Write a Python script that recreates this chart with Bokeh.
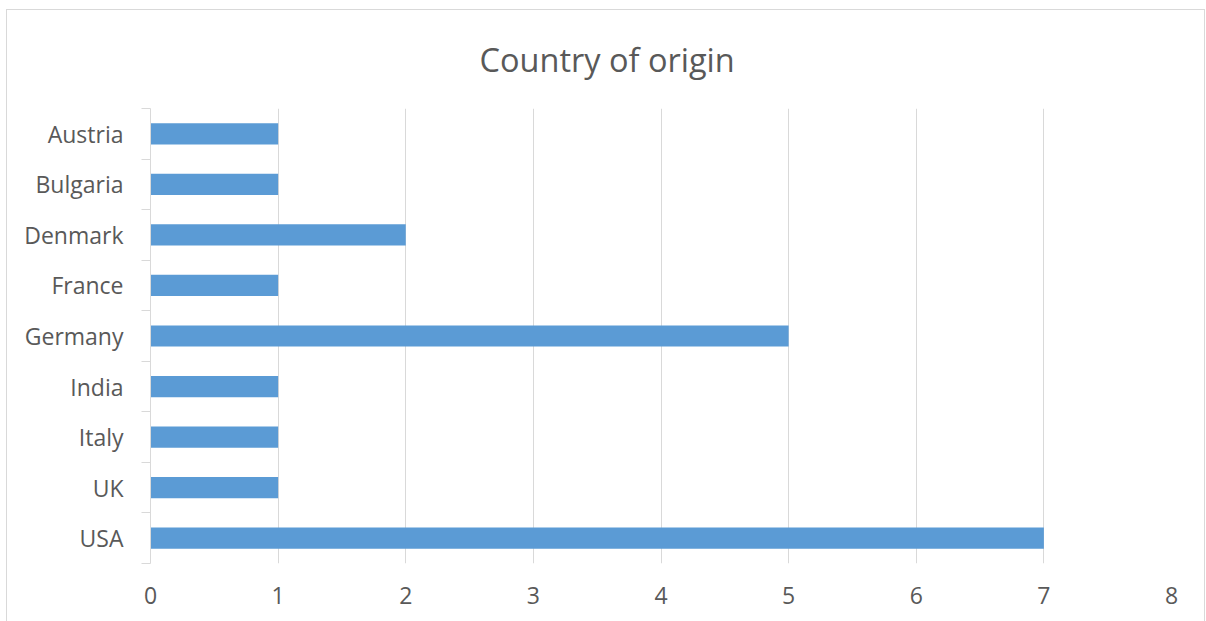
from bokeh.plotting import figure
from bokeh.models import Range1d, FixedTicker
from bokeh.embed import file_html
from bokeh.resources import INLINE

# Data
countries = ["Austria", "Bulgaria", "Denmark", "France", "Germany", "India", "Italy", "UK", "USA"]
counts = [1, 1, 2, 1, 5, 1, 1, 1, 7]
x_ticks = [0, 1, 2, 3, 4, 5, 6, 7, 8]
title_text = "Country of origin"

FONT = "Open Sans"
TEXT = "#595959"
GRID = "#d9d9d9"
BAR = "#5b9bd5"

n = len(countries)
# first country at the top
positions = [n - 1 - i for i in range(n)]
boundaries = [k - 0.5 for k in range(n + 1)]

p = figure(
    width=1199, height=612,
    x_range=Range1d(0, 8), y_range=Range1d(-0.5, n - 0.5),
    output_backend="svg", toolbar_location=None,
    min_border_left=143, min_border_right=35,
    min_border_top=98, min_border_bottom=59,
    outline_line_color=None,
)
p.margin = (9, 0, 0, 6)
p.styles = {
    "border-top": f"1px solid {GRID}",
    "border-left": f"1px solid {GRID}",
    "border-right": f"1px solid {GRID}",
}

p.hbar(y=positions, left=0, right=counts, height=0.42,
       fill_color=BAR, line_color=None)

# title
p.title.text = title_text
p.title.align = "left"
p.title.offset = 329
p.title.vertical_align = "top"
p.title.standoff = 50
p.title.text_font = FONT
p.title.text_font_size = "32.5px"
p.title.text_font_style = "normal"
p.title.text_color = TEXT

# x axis
p.xaxis.ticker = FixedTicker(ticks=x_ticks)
p.xaxis.axis_line_color = None
p.xaxis.major_tick_line_color = None
p.xaxis.minor_tick_line_color = None
p.xaxis.major_label_text_font = FONT
p.xaxis.major_label_text_font_size = "23px"
p.xaxis.major_label_text_color = TEXT
p.xaxis.major_label_standoff = 17

# y axis: labels at category centres, tick marks at category boundaries
p.yaxis.ticker = FixedTicker(ticks=positions, minor_ticks=boundaries)
p.yaxis.major_label_overrides = {pos: name for pos, name in zip(positions, countries)}
p.yaxis.axis_line_color = GRID
p.yaxis.major_tick_out = 0
p.yaxis.major_tick_in = 0
p.yaxis.minor_tick_out = 9
p.yaxis.minor_tick_in = 0
p.yaxis.minor_tick_line_color = GRID
p.yaxis.major_label_text_font = FONT
p.yaxis.major_label_text_font_size = "23px"
p.yaxis.major_label_text_color = TEXT
p.yaxis.major_label_standoff = 18

p.xgrid.grid_line_color = GRID
p.ygrid.grid_line_color = None

open("out.html", "w").write(file_html(p, INLINE))
